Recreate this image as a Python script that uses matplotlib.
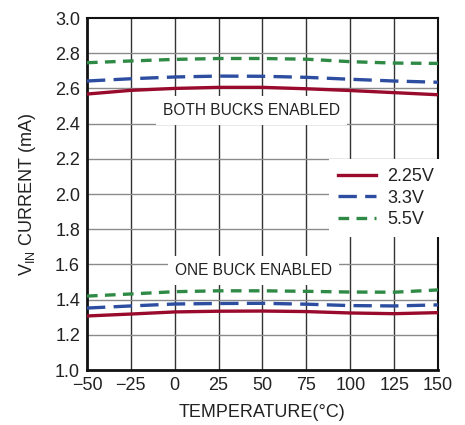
import matplotlib
matplotlib.use('Agg')
import matplotlib.pyplot as plt
from matplotlib import font_manager

names = {f.name for f in font_manager.fontManager.ttflist}
family = 'Liberation Sans Narrow' if 'Liberation Sans Narrow' in names else 'Liberation Sans'
plt.rcParams['font.family'] = [family, 'DejaVu Sans']
plt.rcParams['mathtext.fontset'] = 'custom'
plt.rcParams['mathtext.rm'] = family

# data
temps = [-50, -25, 0, 25, 50, 75, 100, 125, 150]

both_225 = [2.568, 2.589, 2.600, 2.606, 2.606, 2.598, 2.588, 2.576, 2.564]
both_33 = [2.642, 2.655, 2.665, 2.670, 2.669, 2.663, 2.652, 2.642, 2.635]
both_55 = [2.746, 2.756, 2.765, 2.770, 2.770, 2.766, 2.752, 2.744, 2.742]

one_225 = [1.307, 1.318, 1.330, 1.334, 1.335, 1.332, 1.324, 1.320, 1.326]
one_33 = [1.352, 1.364, 1.375, 1.378, 1.379, 1.374, 1.366, 1.364, 1.370]
one_55 = [1.420, 1.432, 1.445, 1.450, 1.450, 1.447, 1.443, 1.442, 1.455]

xticks = [-50, -25, 0, 25, 50, 75, 100, 125, 150]
xtick_labels = ['\u221250', '\u221225', '0', '25', '50', '75', '100', '125', '150']
yticks = [1.0, 1.2, 1.4, 1.6, 1.8, 2.0, 2.2, 2.4, 2.6, 2.8, 3.0]

red = '#990a2c'
blue = '#2c4da0'
green = '#2f8a46'

fig = plt.figure(figsize=(4.65, 4.25), dpi=100)
ax = fig.add_axes([0.187, 0.1294, 0.755, 0.8282])

lw = 2.4
ax.plot(temps, both_225, color=red, lw=lw, label='2.25V', zorder=5)
ax.plot(temps, both_33, color=blue, lw=lw, dashes=(5.5, 2.5), label='3.3V', zorder=5)
ax.plot(temps, both_55, color=green, lw=lw, dashes=(3.2, 2.2), label='5.5V', zorder=5)
ax.plot(temps, one_225, color=red, lw=lw, zorder=5)
ax.plot(temps, one_33, color=blue, lw=lw, dashes=(5.5, 2.5), zorder=5)
ax.plot(temps, one_55, color=green, lw=lw, dashes=(3.2, 2.2), zorder=5)

ax.set_xlim(-50, 150)
ax.set_ylim(1.0, 3.0)
ax.set_xticks(xticks)
ax.set_xticklabels(xtick_labels)
ax.set_yticks(yticks)
ax.set_yticklabels(['%.1f' % v for v in yticks])
ax.tick_params(length=0, labelsize=13, pad=5, colors='#222222')

# grid: vertical darker, horizontal lighter
for x in xticks[1:-1]:
    ax.axvline(x, color='#333333', lw=1.0, zorder=1)
for y in yticks[1:-1]:
    ax.axhline(y, color='#8a8a8a', lw=1.0, zorder=1)

for side in ['left', 'bottom']:
    ax.spines[side].set_linewidth(2.0)
for side in ['top', 'right']:
    ax.spines[side].set_linewidth(1.5)
for s in ax.spines.values():
    s.set_color('#111111')

box = dict(facecolor='white', edgecolor='none', pad=5)
ax.text(44, 2.475, 'BOTH BUCKS ENABLED', ha='center', va='center',
        fontsize=11.2, color='#222222', bbox=box, zorder=3)
ax.text(45, 1.567, 'ONE BUCK ENABLED', ha='center', va='center',
        fontsize=11.2, color='#222222', bbox=box, zorder=3)

leg = ax.legend(loc='upper left', bbox_to_anchor=(0.665, 0.625), fontsize=13,
                frameon=True, fancybox=False, framealpha=1, edgecolor='none',
                handlelength=2.1, handletextpad=0.6, labelspacing=0.25,
                borderpad=0.5)
leg.set_zorder(4)
for t in leg.get_texts():
    t.set_color('#222222')

ax.set_xlabel('TEMPERATURE(\u00b0C)', fontsize=13, color='#222222', labelpad=7)
ax.set_ylabel(r'V$_{\mathrm{IN}}$ CURRENT (mA)', fontsize=13, color='#222222', labelpad=12)

fig.savefig('out.png', dpi=100)
